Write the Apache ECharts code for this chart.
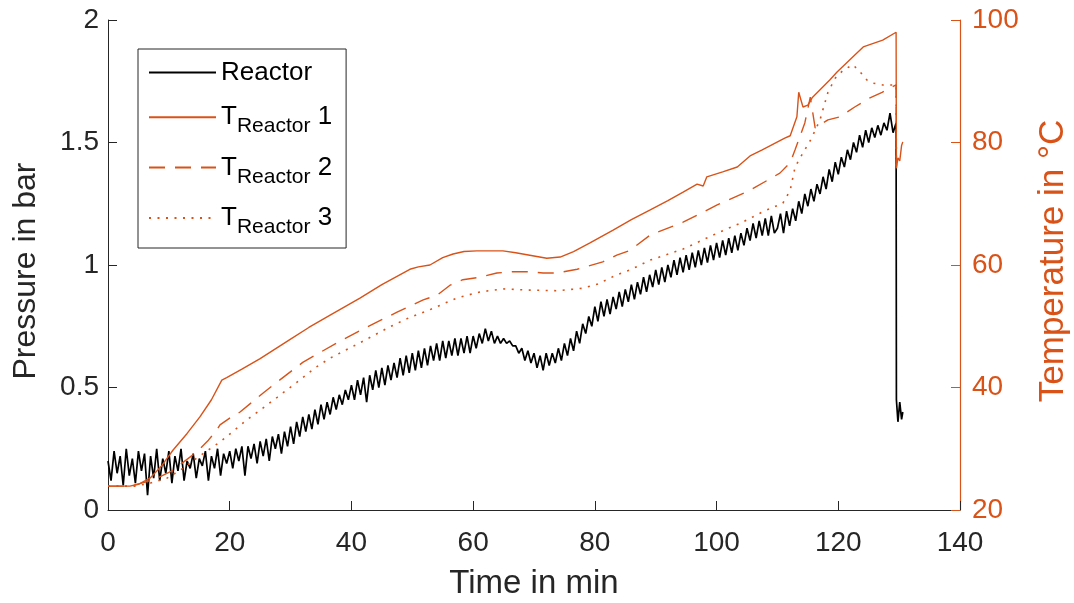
<!DOCTYPE html>
<html><head><meta charset="utf-8">
<script src="https://cdn.jsdelivr.net/npm/echarts@6/dist/echarts.min.js"></script>
<style>html,body{margin:0;padding:0;background:#fff}#c{width:1074px;height:603px}</style>
</head><body><div id="c"></div>
<script>
// ---- data ----
// Pressure in bar, sampled every 0.5 min, one row per 10 minutes
const pressureStep = 0.5;
const p000 = [0.20,0.12,0.24,0.15,0.22,0.10,0.25,0.14,0.21,0.11,0.24,0.16,0.23,0.06,0.22,0.13,0.25,0.12,0.21,0.15];
const p010 = [0.24,0.11,0.22,0.16,0.25,0.12,0.20,0.17,0.23,0.13,0.21,0.18,0.24,0.12,0.22,0.17,0.25,0.14,0.23,0.19];
const p020 = [0.24,0.17,0.25,0.20,0.26,0.14,0.26,0.21,0.27,0.19,0.28,0.22,0.29,0.20,0.30,0.25,0.31,0.23,0.32,0.26];
const p030 = [0.34,0.27,0.36,0.30,0.38,0.32,0.39,0.33,0.41,0.35,0.43,0.37,0.44,0.39,0.46,0.41,0.47,0.43,0.49,0.45];
const p040 = [0.51,0.45,0.53,0.47,0.54,0.44,0.55,0.49,0.57,0.50,0.58,0.51,0.59,0.53,0.60,0.54,0.62,0.55,0.63,0.56];
const p050 = [0.64,0.57,0.65,0.58,0.66,0.59,0.67,0.61,0.68,0.61,0.69,0.62,0.69,0.63,0.70,0.63,0.70,0.64,0.71,0.64];
const p060 = [0.71,0.66,0.72,0.68,0.74,0.69,0.73,0.68,0.71,0.68,0.70,0.68,0.69,0.67,0.67,0.64,0.66,0.61,0.65,0.60];
const p070 = [0.64,0.58,0.63,0.57,0.64,0.59,0.64,0.60,0.66,0.61,0.68,0.63,0.70,0.65,0.73,0.68,0.76,0.72,0.79,0.75];
const p080 = [0.83,0.77,0.85,0.79,0.86,0.80,0.87,0.82,0.89,0.83,0.90,0.85,0.92,0.86,0.93,0.88,0.95,0.89,0.96,0.91];
const p090 = [0.98,0.92,0.99,0.93,1.00,0.95,1.02,0.96,1.03,0.97,1.04,0.98,1.05,0.99,1.06,1.00,1.07,1.01,1.08,1.02];
const p100 = [1.09,1.03,1.10,1.04,1.11,1.05,1.12,1.06,1.13,1.08,1.15,1.10,1.17,1.11,1.18,1.12,1.19,1.12,1.20,1.13];
const p110 = [1.15,1.21,1.13,1.22,1.16,1.23,1.18,1.26,1.21,1.29,1.24,1.31,1.26,1.33,1.29,1.36,1.31,1.39,1.34,1.42];
const p120 = [1.37,1.44,1.40,1.47,1.43,1.50,1.46,1.53,1.48,1.55,1.50,1.56,1.52,1.57,1.53,1.58,1.55,1.62,1.54,1.58];
// after the pressure drop: [time, pressure]
const pressureTail = [[129.55,0.45],[129.8,0.36],[130.1,0.44],[130.4,0.37],[130.6,0.40]];

// Temperatures in °C as [time in min, value]
const tReactor1 = [[0,23.9],[3.6,23.9],[5,24.2],[6.9,25.2],[8.8,27.2],[10.7,29.8],[13,32.5],[15.1,35.2],[17,38],[18.7,41.2],[19.5,41.6],[22,43],[25,44.7],[30,47.9],[33,49.8],[36.5,51.8],[41.4,54.6],[45,56.8],[49.6,59.3],[51,59.7],[52.9,60.0],[55,61.2],[56.7,61.8],[58.5,62.2],[60.6,62.3],[64.9,62.3],[67,62.0],[69.3,61.6],[72.1,61.1],[74.3,61.3],[76.5,62.2],[79.2,63.6],[83,65.7],[86,67.4],[89.1,69.0],[92,70.5],[94.5,71.9],[96.8,73.2],[97.8,72.9],[98.4,74.4],[101,75.2],[103.4,76.0],[105.5,77.8],[107.5,78.8],[111.2,80.7],[112.1,81.1],[113.2,84.2],[113.5,88.2],[114.2,85.8],[115,86.1],[115.7,87.3],[118.6,90.2],[119.8,91.5],[121.9,93.5],[124.1,95.6],[127.3,96.7],[129.5,98.0],[129.55,75.8],[129.8,77.5],[130.1,77.0],[130.4,79.5],[130.6,80.1]];
const tReactor2 = [[0,23.9],[3.6,23.9],[6,24.5],[8.5,25.4],[10.7,26.5],[12.5,27.9],[14.6,29.5],[16.5,31.4],[17.9,33.1],[18.4,33.9],[20,35],[21.7,36.0],[25.5,39.1],[27.8,40.9],[32,44.1],[37.8,47.4],[42.6,49.9],[47.5,52.3],[51.8,54.3],[54.1,55.1],[56.2,56.7],[58.3,57.6],[61.1,58.0],[63.9,58.7],[66.5,58.9],[69.3,58.9],[71.5,58.7],[73.8,58.7],[77.1,59.3],[81.3,60.5],[83.6,61.6],[85.8,62.4],[89.1,64.9],[94.5,67.0],[100.1,69.8],[105.5,72.2],[110.4,75.0],[112.1,76.7],[112.9,78.8],[114.5,83.2],[115.4,87.4],[116.2,82.4],[118.3,83.7],[120.3,84.2],[122.7,85.8],[125.2,87.3],[127.2,88.2],[129.5,89.4],[129.55,75.8]];
const tReactor3 = [[0,23.9],[4.5,23.9],[7,24.4],[9.7,25.2],[12,26.6],[14.6,28.5],[16.5,29.8],[18.4,31.1],[20.5,32.8],[22.8,34.7],[25,36.3],[27.8,38.4],[31.5,41.2],[34,43.2],[36.5,44.8],[41.4,47.3],[46.3,49.9],[49.5,51.4],[52.9,52.7],[57.3,54.6],[61.1,55.6],[64.9,56.1],[69.3,55.9],[73.8,55.8],[78,56.2],[80.5,56.9],[83.6,58.4],[86,59.3],[89.1,60.8],[94.5,62.6],[100.1,65.2],[104.3,67.0],[107.6,68.7],[110.9,70.1],[112.1,72.2],[112.9,76.0],[114.2,78.3],[115.5,80.5],[117,83.7],[118.3,88.2],[119.5,90.5],[120.8,91.8],[122.4,92.7],[123.6,91.5],[124.7,90.2],[125.7,89.7],[127.3,89.4],[129.5,89.4],[129.55,75.8]];

const seriesNames = ['Reactor','T1','T2','T3'];

// ---- build ----
const pressureRows = [p000,p010,p020,p030,p040,p050,p060,p070,p080,p090,p100,p110,p120];
const pressureData = [];
pressureRows.forEach((row, r) => row.forEach((v, j) => pressureData.push([(r * row.length + j) * pressureStep, v])));
pressureTail.forEach(pt => pressureData.push(pt));

const ORANGE = '#D95319';
const DARK = '#262626';
const FONT = '"Liberation Sans", Arial, Helvetica, sans-serif';

const chart = echarts.init(document.getElementById('c'), null, {renderer: 'canvas'});
chart.setOption({
  animation: false,
  backgroundColor: '#fff',
  textStyle: {fontFamily: FONT},
  grid: {left: 108, right: 114, top: 20, bottom: 93, containLabel: false, outerBoundsMode: 'none'},
  legend: {
    orient: 'vertical', left: 138, top: 49,
    padding: [9, 14, 10, 10], itemGap: 16,
    itemWidth: 67, itemHeight: 36,
    borderColor: DARK, borderWidth: 1, backgroundColor: '#fff',
    itemStyle: {color: 'transparent', borderColor: 'transparent', borderWidth: 0, opacity: 0},
    data: seriesNames,
    formatter: function (name) {
      if (name === 'Reactor') return '{m|Reactor}';
      return '{t|T}{s|Reactor}{t| ' + name.slice(1) + '}';
    },
    textStyle: {
      fontFamily: FONT, color: '#000', fontSize: 26,
      rich: {
        m: {fontFamily: FONT, fontSize: 26, lineHeight: 28, color: '#000'},
        t: {fontFamily: FONT, fontSize: 26, lineHeight: 40, verticalAlign: 'middle', color: '#000'},
        s: {fontFamily: FONT, fontSize: 21, lineHeight: 17, verticalAlign: 'bottom', color: '#000'}
      }
    }
  },
  xAxis: {
    type: 'value', min: 0, max: 140, interval: 20,
    name: 'Time in min', nameLocation: 'middle', nameGap: 57,
    nameTextStyle: {fontSize: 33, color: DARK, fontFamily: FONT},
    axisLine: {show: true, lineStyle: {color: DARK, width: 1}},
    axisTick: {show: true, inside: true, length: 9, lineStyle: {color: DARK}},
    axisLabel: {fontSize: 28, color: DARK, margin: 19, fontFamily: FONT},
    splitLine: {show: false}
  },
  yAxis: [
    {
      type: 'value', min: 0, max: 2, interval: 0.5, position: 'left',
      name: 'Pressure in bar', nameLocation: 'middle', nameGap: 66, nameRotate: 90,
      nameTextStyle: {fontSize: 32, color: DARK, fontFamily: FONT, padding: [0, 12, 0, 0]},
      axisLine: {show: true, lineStyle: {color: DARK, width: 1}},
      axisTick: {show: true, inside: true, length: 9, lineStyle: {color: DARK}},
      axisLabel: {fontSize: 28, color: DARK, margin: 9, fontFamily: FONT},
      splitLine: {show: false}
    },
    {
      type: 'value', min: 20, max: 100, interval: 20, position: 'right',
      name: 'Temperature in °C', nameLocation: 'middle', nameGap: 76, nameRotate: 90,
      nameTextStyle: {fontSize: 35, color: ORANGE, fontFamily: FONT, padding: [0, 0, 0, 8]},
      axisLine: {show: true, lineStyle: {color: ORANGE, width: 1.2}},
      axisTick: {show: true, inside: true, length: 9, lineStyle: {color: ORANGE}},
      axisLabel: {fontSize: 28, color: ORANGE, margin: 12, fontFamily: FONT},
      splitLine: {show: false}
    }
  ],
  series: [
    {name: seriesNames[0], type: 'line', yAxisIndex: 0, data: pressureData, symbol: 'none', showSymbol: false,
     lineStyle: {color: '#000', width: 1.7}, itemStyle: {color: '#000'}, z: 2},
    {name: seriesNames[1], type: 'line', yAxisIndex: 1, data: tReactor1, symbol: 'none', showSymbol: false,
     lineStyle: {color: ORANGE, width: 1.4}, itemStyle: {color: ORANGE}, z: 3},
    {name: seriesNames[2], type: 'line', yAxisIndex: 1, data: tReactor2, symbol: 'none', showSymbol: false,
     lineStyle: {color: ORANGE, width: 1.4, type: [16, 10]}, itemStyle: {color: ORANGE}, z: 3},
    {name: seriesNames[3], type: 'line', yAxisIndex: 1, data: tReactor3, symbol: 'none', showSymbol: false,
     lineStyle: {color: ORANGE, width: 1.6, type: [2, 6.5]}, itemStyle: {color: ORANGE}, z: 3}
  ]
});
</script>
</body></html>
